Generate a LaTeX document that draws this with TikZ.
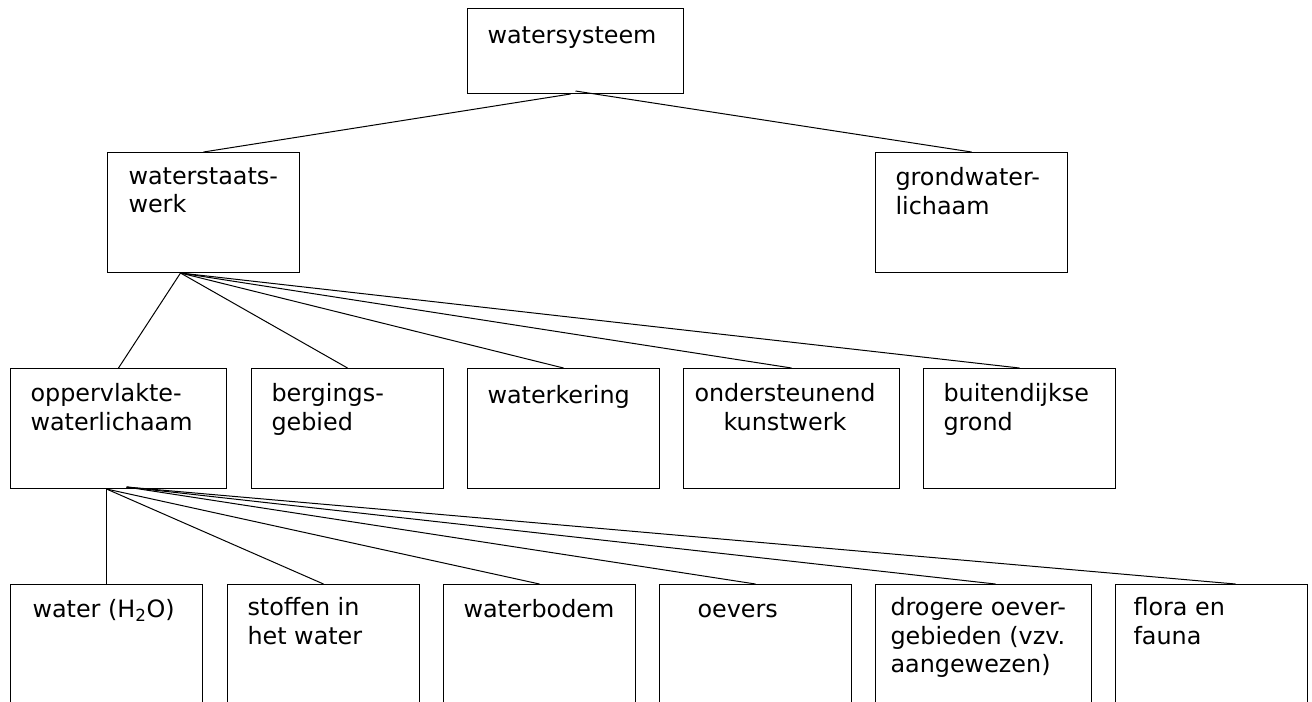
\documentclass[tikz,border=0pt]{standalone}
\usepackage{fontspec}
\setmainfont{DejaVu Sans}

\tikzset{every picture/.style={line width=0.75pt}}
\tikzset{
  box/.style={draw, anchor=north west, inner sep=0pt, minimum width=144pt, minimum height=90pt},
  widebox/.style={box, minimum width=162pt},
  lowbox/.style={box, minimum height=97.5pt},
  boxtext/.style={anchor=north west, inner sep=0pt, align=left, font=\fontsize{17.9}{21.5}\selectfont,
    execute at begin node={\rule{0pt}{15pt}}},
}

\begin{document}
\begin{tikzpicture}[x=0.75pt,y=0.75pt,yscale=-1,xscale=1]
\useasboundingbox (0,0) rectangle (1312,701);
\clip (0,0) rectangle (1312,701);

%Shape: Rectangle
\node [widebox, minimum height=63.75pt] (sys) at (467,8) {};
%Shape: Rectangle
\node [box] (wsw) at (107,152) {};
%Shape: Rectangle
\node [box] (gwl) at (875,152) {};

%Shape: Rectangle
\node [widebox] (owl) at (10,368) {};
\node [box] (bgb) at (251,368) {};
\node [box] (wkr) at (467,368) {};
\node [widebox] (okw) at (683,368) {};
\node [box] (bdg) at (923,368) {};

%Shape: Rectangle
\node [lowbox] (wat) at (10,584) {};
\node [lowbox] (sto) at (227,584) {};
\node [lowbox] (wbd) at (443,584) {};
\node [lowbox] (oev) at (659,584) {};
\node [lowbox, minimum width=162pt] (dro) at (875,584) {};
\node [lowbox] (flf) at (1115,584) {};

%Straight Lines
\draw ([shift={(-5,0)}]sys.south) -- (wsw.north) ;
\draw ([shift={(0,-3)}]sys.south) -- (gwl.north) ;
%Straight Lines
\draw ([shift={(-23,0)}]wsw.south) -- (owl.north) ;
\draw ([shift={(-23,0)}]wsw.south) -- (bgb.north) ;
\draw ([shift={(-23,0)}]wsw.south) -- (wkr.north) ;
\draw ([shift={(-23,0)}]wsw.south) -- (okw.north) ;
\draw ([shift={(-23,0)}]wsw.south) -- (bdg.north) ;
%Straight Lines
\draw ([shift={(-12,0)}]owl.south) -- (wat.north) ;
\draw ([shift={(-12,0)}]owl.south) -- (sto.north) ;
\draw ([shift={(-12,0)}]owl.south) -- (wbd.north) ;
\draw ([shift={(8,-2)}]owl.south) -- (oev.north) ;
\draw ([shift={(8,-2)}]owl.south) -- ([shift={(12,0)}]dro.north) ;
\draw ([shift={(8,-2)}]owl.south) -- ([shift={(24,0)}]flf.north) ;

% Text Node
\node [boxtext] (t-sys) at ([shift={(20,15)}]sys.north west) {watersysteem};
% Text Node
\node [boxtext] (t-wsw) at ([shift={(21,15)}]wsw.north west) {waterstaats-\\werk};
% Text Node
\node [boxtext] (t-gwl) at ([shift={(20,15)}]gwl.north west) {grondwater-\\lichaam};
% Text Node
\node [boxtext] (t-owl) at ([shift={(20,15)}]owl.north west) {oppervlakte-\\waterlichaam};
% Text Node
\node [boxtext] (t-bgb) at ([shift={(20,15)}]bgb.north west) {bergings-\\gebied};
% Text Node
\node [boxtext] (t-wkr) at ([shift={(20,15)}]wkr.north west) {waterkering};
% Text Node
\node [boxtext, align=center] (t-okw) at ([shift={(11,15)}]okw.north west) {ondersteunend\\kunstwerk};
% Text Node
\node [boxtext] (t-bdg) at ([shift={(20,15)}]bdg.north west) {buitendijkse\\grond};
% Text Node
\node [boxtext] (t-wat) at ([shift={(22,13)}]wat.north west) {water (H\textsubscript{2}O)};
% Text Node
\node [boxtext] (t-sto) at ([shift={(20,13)}]sto.north west) {stoffen in\\het water};
% Text Node
\node [boxtext] (t-wbd) at ([shift={(20,13)}]wbd.north west) {waterbodem};
% Text Node
\node [boxtext] (t-oev) at ([shift={(38,13)}]oev.north west) {oevers};
% Text Node
\node [boxtext] (t-dro) at ([shift={(15,13)}]dro.north west) {drogere oever-\\gebieden (vzv.\\aangewezen)};
% Text Node
\node [boxtext] (t-flf) at ([shift={(18,13)}]flf.north west) {flora en\\fauna};

\end{tikzpicture}
\end{document}
